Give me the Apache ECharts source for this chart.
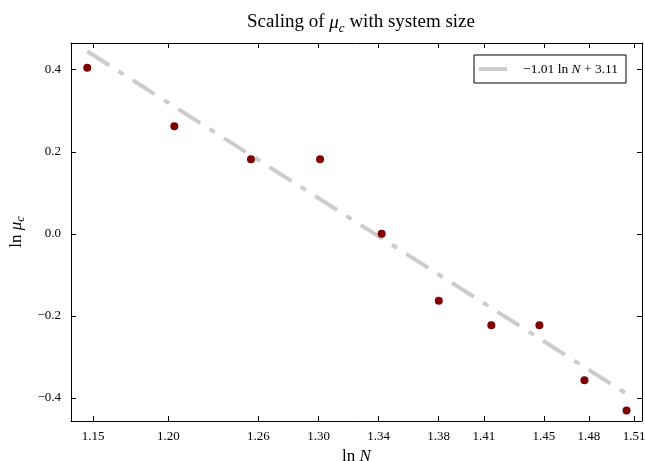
<!DOCTYPE html>
<html>
<head>
<meta charset="utf-8">
<script src="https://cdn.jsdelivr.net/npm/echarts@6/dist/echarts.min.js"></script>
<style>
  html, body { margin: 0; padding: 0; background: #fff; }
  #chart { width: 645px; height: 461px; }
</style>
</head>
<body>
<div id="chart"></div>
<script>
// Measured points: x = ln N axis value, y = ln mu_c
const xValues = [1.146, 1.204, 1.255, 1.301, 1.342, 1.380, 1.415, 1.447, 1.477, 1.505];
const yValues = [0.405, 0.262, 0.182, 0.182, 0.000, -0.163, -0.223, -0.223, -0.357, -0.431];

// Fitted line endpoints
const fitX = [1.146, 1.505];
const fitY = [0.445, -0.390];
const fitName = '−1.01 ln N + 3.11';

// Tick positions and labels
const xTicks = [1.15, 1.20, 1.26, 1.30, 1.34, 1.38, 1.41, 1.45, 1.48, 1.51];
const yTicks = [-0.4, -0.2, 0.0, 0.2, 0.4];

const FONT = '"Liberation Serif", "DejaVu Serif", serif';
const fmtY = v => (v < 0 ? '−' : '') + Math.abs(v).toFixed(1);
const fmtX = v => v.toFixed(2);

const X_MIN = 1.1352, X_MAX = 1.5153;
const Y_MIN = -0.4564, Y_MAX = 0.4652;

function makeX(pos, showLabels) {
  return {
    type: 'value', position: pos, min: X_MIN, max: X_MAX,
    splitLine: { show: false },
    axisLine: { show: true, onZero: false, lineStyle: { color: '#000', width: 1 } },
    axisTick: { show: true, inside: true, length: 5, customValues: xTicks, lineStyle: { color: '#000' } },
    axisLabel: { show: showLabels, customValues: xTicks, formatter: fmtX, margin: 9,
      fontFamily: FONT, fontSize: 13, color: '#000' }
  };
}
function makeY(pos, showLabels) {
  return {
    type: 'value', position: pos, min: Y_MIN, max: Y_MAX,
    splitLine: { show: false },
    axisLine: { show: true, onZero: false, lineStyle: { color: '#000', width: 1 } },
    axisTick: { show: true, inside: true, length: 5, customValues: yTicks, lineStyle: { color: '#000' } },
    axisLabel: { show: showLabels, customValues: yTicks, formatter: fmtY, margin: 10,
      fontFamily: FONT, fontSize: 13, color: '#000' }
  };
}

const xBottom = makeX('bottom', true);
xBottom.name = 'ln {i|N}';
xBottom.nameLocation = 'middle';
xBottom.nameGap = 25;
xBottom.nameTextStyle = { fontFamily: FONT, fontSize: 17, color: '#000', verticalAlign: 'top',
  rich: { i: { fontFamily: FONT, fontSize: 17, fontStyle: 'italic', color: '#000' } } };

const yLeft = makeY('left', true);
yLeft.name = 'ln {i|μ}{s|c}';
yLeft.nameLocation = 'middle';
yLeft.nameRotate = 90;
yLeft.nameGap = 44;
yLeft.nameTextStyle = { fontFamily: FONT, fontSize: 17, color: '#000',
  rich: {
    i: { fontFamily: FONT, fontSize: 17, fontStyle: 'italic', color: '#000' },
    s: { fontFamily: FONT, fontSize: 12, fontStyle: 'italic', color: '#000', padding: [8, 0, 0, 0] }
  } };

const chart = echarts.init(document.getElementById('chart'), null, { renderer: 'canvas' });
chart.setOption({
  backgroundColor: '#fff',
  animation: false,
  title: {
    text: 'Scaling of {i|μ}{s|c} with system size',
    left: 356, top: 5, textAlign: 'center',
    textStyle: {
      fontFamily: FONT, fontSize: 19, fontWeight: 'normal', color: '#000',
      rich: {
        i: { fontFamily: FONT, fontSize: 19, fontStyle: 'italic', color: '#000' },
        s: { fontFamily: FONT, fontSize: 13, fontStyle: 'italic', color: '#000', padding: [12, 0, 0, 0] }
      }
    }
  },
  grid: { left: 71, right: 3, top: 43, bottom: 40, containLabel: false, outerBoundsMode: 'none' },
  legend: {
    data: [{ name: fitName, icon: 'rect' }],
    right: 19, top: 55,
    orient: 'vertical',
    backgroundColor: '#fff',
    borderColor: '#000', borderWidth: 1, borderRadius: 0,
    padding: [7, 8, 7, 5],
    itemWidth: 28, itemHeight: 4, itemGap: 18,
    itemStyle: { color: '#cccccc' },
    formatter: () => '−1.01 ln {i|N} + 3.11',
    textStyle: { fontFamily: FONT, fontSize: 13.5, color: '#000', padding: [0, 0, 0, 11],
      rich: { i: { fontFamily: FONT, fontSize: 13.5, fontStyle: 'italic', color: '#000' } } }
  },
  xAxis: [xBottom, makeX('top', false)],
  yAxis: [yLeft, makeY('right', false)],
  series: [
    {
      name: fitName,
      type: 'line',
      data: fitX.map((x, i) => [x, fitY[i]]),
      showSymbol: false, symbol: 'none',
      lineStyle: { color: '#cccccc', width: 4, type: [26, 11, 6, 11], cap: 'butt' },
      itemStyle: { color: '#cccccc' },
      z: 2
    },
    {
      name: 'points',
      type: 'scatter',
      data: xValues.map((x, i) => [x, yValues[i]]),
      symbolSize: 8,
      itemStyle: { color: '#800000', opacity: 1 },
      z: 3
    }
  ]
});
</script>
</body>
</html>
